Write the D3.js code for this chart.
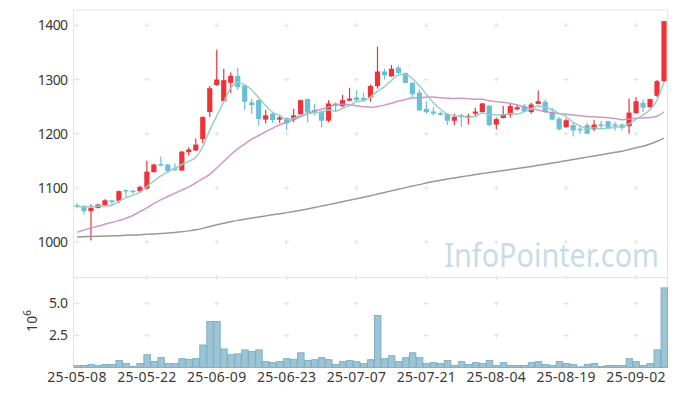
<!DOCTYPE html>
<html>
<head>
<meta charset="utf-8">
<script src="https://cdn.jsdelivr.net/npm/d3@7/dist/d3.min.js"></script>
<style>
  body { margin: 0; background: #fff; }
  svg { display: block; font-family: "Noto Sans", sans-serif; }
</style>
</head>
<body>
<svg id="chart" width="677" height="396"></svg>
<script>
// trading days, YY-MM-DD
const dates = [
  '25-05-08','25-05-09','25-05-12','25-05-13','25-05-14','25-05-15','25-05-16','25-05-19','25-05-20','25-05-21',
  '25-05-22','25-05-23','25-05-26','25-05-27','25-05-28','25-05-29','25-05-30','25-06-02','25-06-04','25-06-05',
  '25-06-09','25-06-10','25-06-11','25-06-12','25-06-13','25-06-16','25-06-17','25-06-18','25-06-19','25-06-20',
  '25-06-23','25-06-24','25-06-25','25-06-26','25-06-27','25-06-30','25-07-01','25-07-02','25-07-03','25-07-04',
  '25-07-07','25-07-08','25-07-09','25-07-10','25-07-11','25-07-14','25-07-15','25-07-16','25-07-17','25-07-18',
  '25-07-21','25-07-22','25-07-23','25-07-24','25-07-25','25-07-28','25-07-29','25-07-30','25-07-31','25-08-01',
  '25-08-04','25-08-05','25-08-06','25-08-07','25-08-08','25-08-11','25-08-12','25-08-13','25-08-14','25-08-18',
  '25-08-19','25-08-20','25-08-21','25-08-22','25-08-25','25-08-26','25-08-27','25-08-28','25-08-29','25-09-01',
  '25-09-02','25-09-03','25-09-04','25-09-05','25-09-08'
];

const opens = [
  1068,1067,1057,1063,1068,1077,1076,1096,1095,1094,
  1099,1129,1144,1143,1136,1132,1166,1169,1190,1240,
  1290,1260,1294,1307,1289,1258,1262,1226,1237,1226,
  1229,1226,1236,1264,1244,1241,1224,1256,1251,1261,
  1267,1266,1267,1288,1315,1306,1322,1312,1294,1276,
  1246,1241,1238,1237,1224,1234,1230,1237,1240,1252,
  1217,1229,1235,1245,1251,1240,1255,1259,1240,1228,
  1212,1216,1209,1216,1208,1217,1223,1217,1217,1214,
  1238,1257,1249,1270,1297
];
const highs = [
  1072,1068,1070,1071,1079,1077,1095,1097,1096,1104,
  1150,1145,1158,1145,1145,1168,1175,1191,1232,1288,
  1355,1320,1313,1322,1292,1264,1263,1244,1239,1234,
  1231,1246,1263,1265,1255,1243,1262,1258,1272,1285,
  1280,1276,1291,1361,1320,1327,1326,1313,1295,1281,
  1260,1249,1241,1238,1237,1237,1237,1248,1257,1253,
  1230,1251,1255,1254,1255,1257,1280,1263,1248,1231,
  1228,1222,1216,1220,1225,1224,1224,1222,1219,1265,
  1268,1263,1265,1299,1408
];
const lows = [
  1062,1051,1003,1062,1067,1069,1072,1083,1089,1092,
  1097,1128,1140,1128,1131,1131,1160,1168,1182,1231,
  1288,1259,1275,1281,1244,1237,1215,1219,1220,1220,
  1207,1221,1235,1221,1234,1212,1221,1240,1249,1260,
  1259,1260,1259,1283,1300,1305,1310,1293,1268,1242,
  1237,1234,1233,1216,1216,1213,1217,1232,1239,1214,
  1208,1228,1230,1243,1240,1237,1254,1238,1225,1206,
  1211,1195,1200,1199,1205,1209,1209,1206,1206,1200,
  1237,1240,1248,1268,1296
];
const closes = [
  1066,1057,1063,1069,1077,1074,1094,1094,1094,1102,
  1130,1143,1142,1131,1133,1167,1171,1180,1231,1284,
  1300,1299,1307,1286,1259,1253,1227,1234,1225,1230,
  1219,1234,1262,1239,1239,1224,1256,1252,1262,1265,
  1262,1262,1288,1315,1308,1320,1312,1294,1273,1243,
  1240,1237,1235,1224,1231,1231,1233,1241,1256,1216,
  1227,1236,1251,1249,1241,1254,1260,1240,1226,1208,
  1225,1206,1208,1200,1217,1215,1211,1214,1211,1239,
  1260,1248,1264,1297,1408
];

// moving averages as drawn on the chart
const ma5 = [
  1066,1065,1065,1066,1066.4,1068,1075.4,1081.6,1086.6,1091.6,
  1102.8,1112.6,1122.2,1129.6,1135.8,1143.2,1148.8,1156.4,1176.4,1206.6,
  1233.2,1258.8,1284.2,1295.2,1290.2,1280.8,1266.4,1251.8,1239.6,1233.8,
  1227,1228.4,1234,1236.8,1238.6,1239.6,1244,1242,1246.6,1251.8,
  1259.4,1260.6,1267.8,1278.4,1287,1298.6,1308.6,1309.8,1301.4,1288.4,
  1272.4,1257.4,1245.6,1235.8,1233.4,1231.6,1230.8,1232,1238.4,1235.4,
  1234.6,1235.2,1237.2,1235.8,1240.8,1246.2,1251,1248.8,1244.2,1237.6,
  1231.8,1221,1214.6,1209.4,1211.2,1209.2,1210.2,1211.4,1213.6,1218,
  1227,1234.4,1244.4,1261.6,1295.4
];
const ma20 = [
  1018,1022,1026,1029,1033,1036,1040,1044,1049,1056,
  1063,1071,1078,1084,1090,1096,1102,1109,1117,1125.1,
  1136.8,1148.9,1161.1,1172,1181,1190,1196.7,1203.7,1210.2,1216.6,
  1221,1225.6,1231.6,1237,1242.3,1245.2,1249.4,1253,1254.6,1253.6,
  1251.7,1249.9,1248.9,1250.4,1252.8,1256.2,1260.4,1263.4,1265.8,1266.5,
  1267.5,1267.7,1266.3,1265.6,1265.2,1265.5,1264.4,1263.8,1263.5,1261,
  1259.3,1258,1256.2,1252.9,1249.5,1246.2,1243.6,1240.9,1238.6,1236.8,
  1236,1234.5,1233.2,1232,1231.2,1230.4,1229.4,1228,1225.8,1226.9,
  1228.6,1229.2,1229.8,1232.2,1240.6
];
const ma120 = [
  1009.4,1009.8,1010.2,1010.6,1011,1011.4,1011.8,1012.3,1012.8,1013.5,
  1014.2,1015,1015.8,1016.8,1017.8,1019,1020.6,1022.6,1025.2,1028.5,
  1032,1034.8,1037.4,1040,1042.2,1044.3,1046.3,1048.3,1050.3,1052.3,
  1054.3,1056.5,1058.8,1061.2,1063.8,1066.4,1069.1,1071.8,1074.5,1077.2,
  1080,1082.8,1085.6,1088.6,1091.6,1094.6,1097.6,1100.5,1103.3,1106,
  1109,1111.6,1114,1116.2,1118.4,1120.5,1122.5,1124.5,1126.5,1128.5,
  1130.3,1132,1133.8,1135.6,1137.5,1139.5,1141.6,1143.7,1145.8,1148,
  1150.2,1152.4,1154.6,1156.8,1159,1161.2,1163.4,1165.6,1167.8,1171,
  1174,1177,1181,1186,1192
];

// volume, millions of shares
const volumes = [
  0.15,0.15,0.23,0.15,0.23,0.23,0.54,0.31,0.08,0.31,
  1.0,0.46,0.77,0.31,0.31,0.69,0.64,0.69,1.76,3.6,
  3.6,1.45,1.0,1.07,1.38,1.25,1.38,0.46,0.38,0.46,
  0.69,0.64,1.15,0.54,0.61,0.77,0.61,0.23,0.46,0.54,
  0.46,0.31,0.61,4.06,0.69,0.92,0.46,0.77,1.15,0.77,
  0.31,0.38,0.31,0.54,0.15,0.46,0.23,0.38,0.31,0.54,
  0.15,0.38,0.15,0.15,0.15,0.38,0.46,0.23,0.15,0.46,
  0.31,0.23,0.05,0.23,0.31,0.08,0.15,0.15,0.15,0.69,
  0.46,0.15,0.31,1.38,6.22
];

const priceTicks = [1000, 1100, 1200, 1300, 1400];
const volumeTicks = [2.5, 5.0];
const dateTicks = ['25-05-08','25-05-22','25-06-09','25-06-23','25-07-07','25-07-21','25-08-04','25-08-19','25-09-02'];

const candles = dates.map((d, i) => ({
  date: d, open: opens[i], high: highs[i], low: lows[i], close: closes[i], volume: volumes[i]
}));

const UP = '#ee3338';
const DOWN = '#69bfd7';
const GRID = '#e2e2e2';
const BORDER = '#e3e3e3';

const svg = d3.select('#chart');
const left = 73.5, right = 667.5;
const priceTop = 10, priceBottom = 277.5;
const volTop = 277.5, volBottom = 367.5;

const x = d3.scaleBand().domain(dates).range([left, right]).padding(0);
const bw = x.bandwidth();
const cx = d => x(d) + bw / 2;

const y = d3.scaleLinear().domain([934.5, 1428.5]).range([priceBottom, priceTop]);
const yv = d3.scaleLinear().domain([0, 7.03]).range([volBottom, volTop]);

// watermark (the original face is narrower, so squeeze it a little)
svg.append('text')
  .attr('transform', 'translate(659,267) scale(0.9,1)')
  .attr('text-anchor', 'end')
  .attr('font-size', 32)
  .attr('fill', '#c8dce6')
  .text('InfoPointer.com');

// grid crosses
const cross = 'M-2.5,0H2.5M0,-2.5V2.5';
const grid = svg.append('g').attr('class', 'grid');
const crossRows = priceTicks.map(v => y(v)).concat(volumeTicks.map(v => yv(v)), [volTop]);
crossRows.forEach(py => {
  dateTicks.forEach(d => {
    grid.append('path')
      .attr('d', cross)
      .attr('transform', `translate(${cx(d)},${py})`)
      .attr('stroke', GRID)
      .attr('stroke-width', 1);
  });
});

// panel borders
const frame = svg.append('g').attr('fill', 'none').attr('stroke', BORDER).attr('stroke-width', 1);
frame.append('rect').attr('x', left).attr('y', priceTop).attr('width', right - left).attr('height', priceBottom - priceTop);
frame.append('rect').attr('x', left).attr('y', volTop).attr('width', right - left).attr('height', volBottom - volTop);

// price axis
const yAxis = svg.append('g')
  .attr('transform', `translate(${left},0)`)
  .call(d3.axisLeft(y).tickValues(priceTicks).tickSize(0).tickPadding(6).tickFormat(d3.format('d')));
yAxis.select('.domain').remove();
yAxis.selectAll('text').attr('font-size', 14).attr('fill', '#3a3a3a')
  .attr('font-family', '"Noto Sans", sans-serif').attr('letter-spacing', -0.6);

// volume axis
const vAxis = svg.append('g')
  .attr('transform', `translate(${left},0)`)
  .call(d3.axisLeft(yv).tickValues(volumeTicks).tickSize(0).tickPadding(6).tickFormat(d3.format('.1f')));
vAxis.select('.domain').remove();
vAxis.selectAll('text').attr('font-size', 14).attr('fill', '#3a3a3a')
  .attr('font-family', '"Noto Sans", sans-serif').attr('letter-spacing', -0.4);

const unit = svg.append('text')
  .attr('transform', 'translate(37,321) rotate(-90)')
  .attr('text-anchor', 'middle')
  .attr('font-size', 14)
  .attr('fill', '#3a3a3a');
unit.append('tspan').text('10');
unit.append('tspan').attr('font-size', 10).attr('dy', -6).text('6');

// date axis
const xAxis = svg.append('g')
  .attr('transform', `translate(0,${volBottom})`)
  .call(d3.axisBottom(x).tickValues(dateTicks).tickSize(0).tickPadding(5));
xAxis.select('.domain').remove();
xAxis.selectAll('text').attr('font-size', 14).attr('fill', '#3a3a3a')
  .attr('font-family', '"Noto Sans", sans-serif').attr('letter-spacing', 0.3);

// volume bars
svg.append('g').selectAll('rect')
  .data(candles)
  .join('rect')
  .attr('x', d => x(d.date) + 0.5)
  .attr('y', d => yv(d.volume))
  .attr('width', bw - 0.5)
  .attr('height', d => yv(0) - yv(d.volume))
  .attr('fill', '#9cc4d4')
  .attr('stroke', '#72a8c1')
  .attr('stroke-width', 0.8);

// candles
const candle = svg.append('g').selectAll('g')
  .data(candles)
  .join('g');

candle.append('line')
  .attr('x1', d => cx(d.date)).attr('x2', d => cx(d.date))
  .attr('y1', d => y(d.high)).attr('y2', d => y(d.low))
  .attr('stroke', d => d.close >= d.open ? UP : DOWN)
  .attr('stroke-width', 1.2);

candle.append('rect')
  .attr('x', d => cx(d.date) - 2.6)
  .attr('width', 5.2)
  .attr('y', d => y(Math.max(d.open, d.close)))
  .attr('height', d => Math.max(1.5, Math.abs(y(d.open) - y(d.close))))
  .attr('fill', d => d.close >= d.open ? UP : DOWN);

// moving averages
const maLine = vals => d3.line()
  .x((v, i) => cx(dates[i]))
  .y(v => y(v))
  .curve(d3.curveMonotoneX)(vals);

svg.append('path').attr('d', maLine(ma120)).attr('fill', 'none')
  .attr('stroke', '#999').attr('stroke-width', 1.5);
svg.append('path').attr('d', maLine(ma20)).attr('fill', 'none')
  .attr('stroke', '#cc8cc6').attr('stroke-width', 1.5).attr('stroke-opacity', 0.9);
svg.append('path').attr('d', maLine(ma5)).attr('fill', 'none')
  .attr('stroke', '#8fcfc6').attr('stroke-width', 1.5).attr('stroke-opacity', 0.95);
</script>
</body>
</html>
